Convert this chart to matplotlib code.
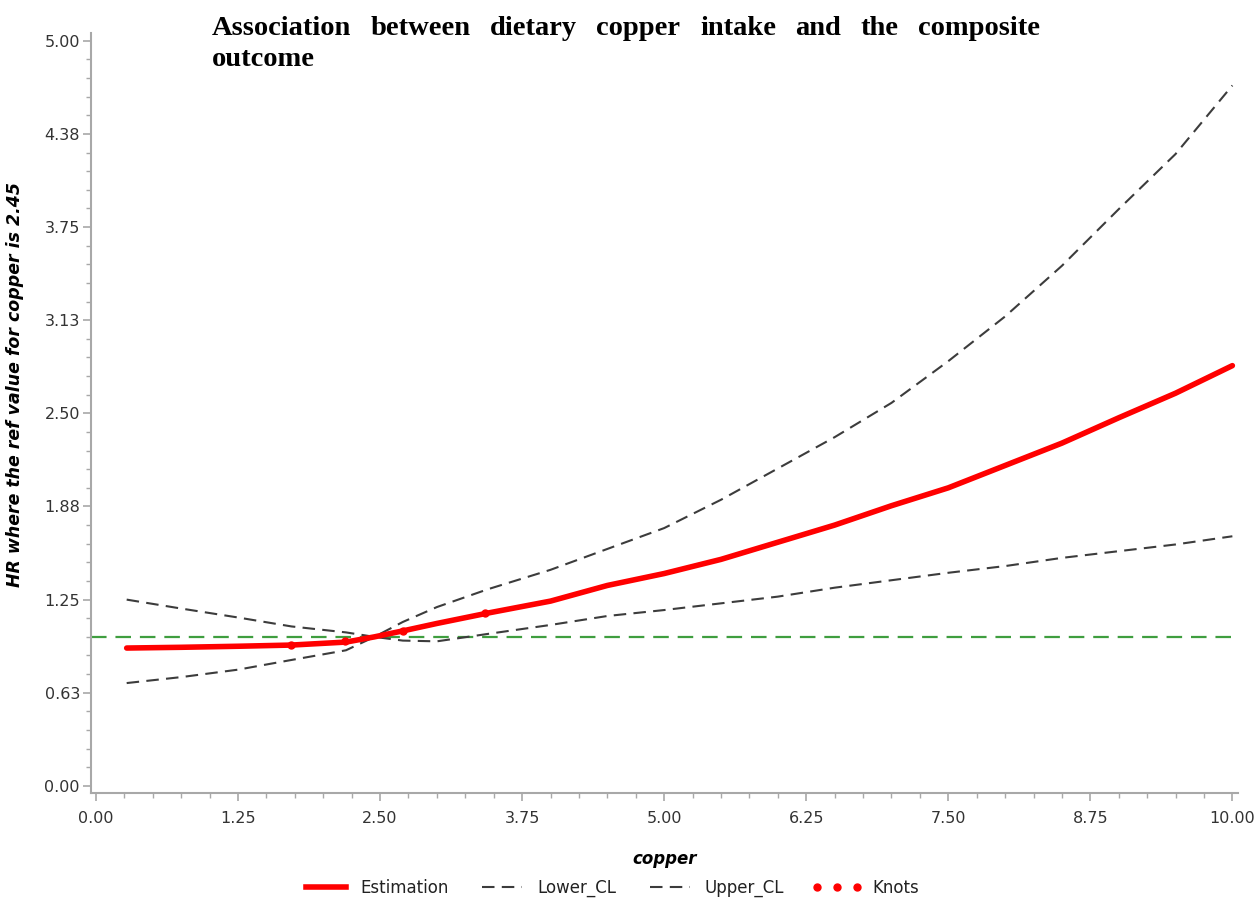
import matplotlib
matplotlib.use("Agg")
import matplotlib.pyplot as plt
from matplotlib.lines import Line2D
from matplotlib.ticker import MultipleLocator

# copper intake (x) and hazard ratio values
copper = [0.27, 0.75, 1.25, 1.72, 2.2, 2.45, 2.7, 3.0, 3.45, 4.0, 4.5, 5.0,
          5.5, 6.0, 6.5, 7.0, 7.5, 8.0, 8.5, 9.0, 9.5, 10.0]
estimation = [0.925, 0.930, 0.937, 0.945, 0.965, 1.0, 1.04, 1.09, 1.16, 1.24, 1.345, 1.425,
              1.52, 1.635, 1.75, 1.88, 2.00, 2.15, 2.30, 2.47, 2.635, 2.82]
lower_cl = [0.69, 0.73, 0.78, 0.845, 0.91, 1.0, 0.975, 0.97, 1.02, 1.08, 1.14, 1.18,
            1.225, 1.27, 1.33, 1.38, 1.43, 1.475, 1.53, 1.575, 1.62, 1.675]
upper_cl = [1.25, 1.19, 1.13, 1.07, 1.03, 1.0, 1.10, 1.20, 1.32, 1.45, 1.59, 1.73,
            1.92, 2.13, 2.34, 2.57, 2.85, 3.15, 3.49, 3.87, 4.24, 4.70]
knots_x = [1.72, 2.19, 2.70, 3.42]
knots_y = [0.945, 0.97, 1.04, 1.16]
ref_hr = 1.0

x_ticks = [0.0, 1.25, 2.5, 3.75, 5.0, 6.25, 7.5, 8.75, 10.0]
x_labels = ["0.00", "1.25", "2.50", "3.75", "5.00", "6.25", "7.50", "8.75", "10.00"]
y_ticks = [0.0, 0.625, 1.25, 1.875, 2.5, 3.125, 3.75, 4.375, 5.0]
y_labels = ["0.00", "0.63", "1.25", "1.88", "2.50", "3.13", "3.75", "4.38", "5.00"]

title_line1 = "Association between dietary copper intake and the composite"
title_line2 = "outcome"

plt.rcParams['font.family'] = ['DejaVu Sans']

fig = plt.figure(figsize=(12.55, 9), dpi=100)
ax = fig.add_axes([0.0725, 0.119, 0.914, 0.844])

RED = '#ff0000'
CL_COLOR = '#3c3c3c'
AXIS_GRAY = '#a8a8a8'

ax.axhline(ref_hr, color='#3f9e3f', lw=1.6, dashes=(7, 4), zorder=1)
ax.plot(copper, lower_cl, color=CL_COLOR, lw=1.5, dashes=(6, 3.5), zorder=2)
ax.plot(copper, upper_cl, color=CL_COLOR, lw=1.5, dashes=(6, 3.5), zorder=2)
ax.plot(copper, estimation, color=RED, lw=4, solid_capstyle='round', zorder=3)
ax.plot(knots_x, knots_y, 'o', color=RED, ms=5, zorder=4)

ax.set_xlim(-0.044, 10.05)
ax.set_ylim(-0.047, 5.05)
ax.set_xticks(x_ticks)
ax.set_xticklabels(x_labels)
ax.set_yticks(y_ticks)
ax.set_yticklabels(y_labels)
ax.xaxis.set_minor_locator(MultipleLocator(0.25))
ax.yaxis.set_minor_locator(MultipleLocator(0.125))

for side in ['top', 'right']:
    ax.spines[side].set_visible(False)
for side in ['left', 'bottom']:
    ax.spines[side].set_color(AXIS_GRAY)
    ax.spines[side].set_linewidth(1.5)

ax.tick_params(which='major', length=6, width=1.2, color=AXIS_GRAY,
               labelsize=11.5, labelcolor='#333333')
ax.tick_params(which='minor', length=3.5, width=1.0, color=AXIS_GRAY)
ax.tick_params(axis='x', which='major', pad=7)
ax.tick_params(axis='y', which='major', pad=2)

ax.set_xlabel('copper', fontsize=12, fontstyle='oblique', fontweight='bold')
ax.xaxis.set_label_coords(0.5, -0.075)
ax.set_ylabel('HR where the ref value for copper is 2.45', fontsize=12.5,
              fontstyle='oblique', fontweight='bold')
ax.yaxis.set_label_coords(-0.058, 0.537)

# justified two-line title in a serif bold face
title_font = dict(family='Liberation Serif', fontweight='bold', fontsize=20.5, color='black')
fig.canvas.draw()
renderer = fig.canvas.get_renderer()
words = title_line1.split()
left_px, right_px = 212, 1040
texts = [fig.text(0, 0, w, **title_font) for w in words]
widths = [t.get_window_extent(renderer).width for t in texts]
gap = (right_px - left_px - sum(widths)) / (len(words) - 1)
xpos = left_px
for t, w in zip(texts, widths):
    t.set_position((xpos / 1255, 1 - 35 / 900))
    xpos += w + gap
fig.text(left_px / 1255, 1 - 66 / 900, title_line2, **title_font)

handles = [
    Line2D([], [], color=RED, lw=4),
    Line2D([], [], color=CL_COLOR, lw=1.5, dashes=(6, 3.5)),
    Line2D([], [], color=CL_COLOR, lw=1.5, dashes=(6, 3.5)),
    Line2D([], [], color=RED, marker='o', ms=5, linestyle='none'),
]
leg = fig.legend(handles, ['Estimation', 'Lower_CL', 'Upper_CL', 'Knots'],
                 loc='lower center', bbox_to_anchor=(0.486, -0.006), ncol=4,
                 frameon=False, fontsize=12, handlelength=3.0, numpoints=3,
                 columnspacing=1.7, handletextpad=0.6, borderaxespad=0.1)
for t in leg.get_texts():
    t.set_color('#222222')

fig.savefig('out.png', dpi=100)
